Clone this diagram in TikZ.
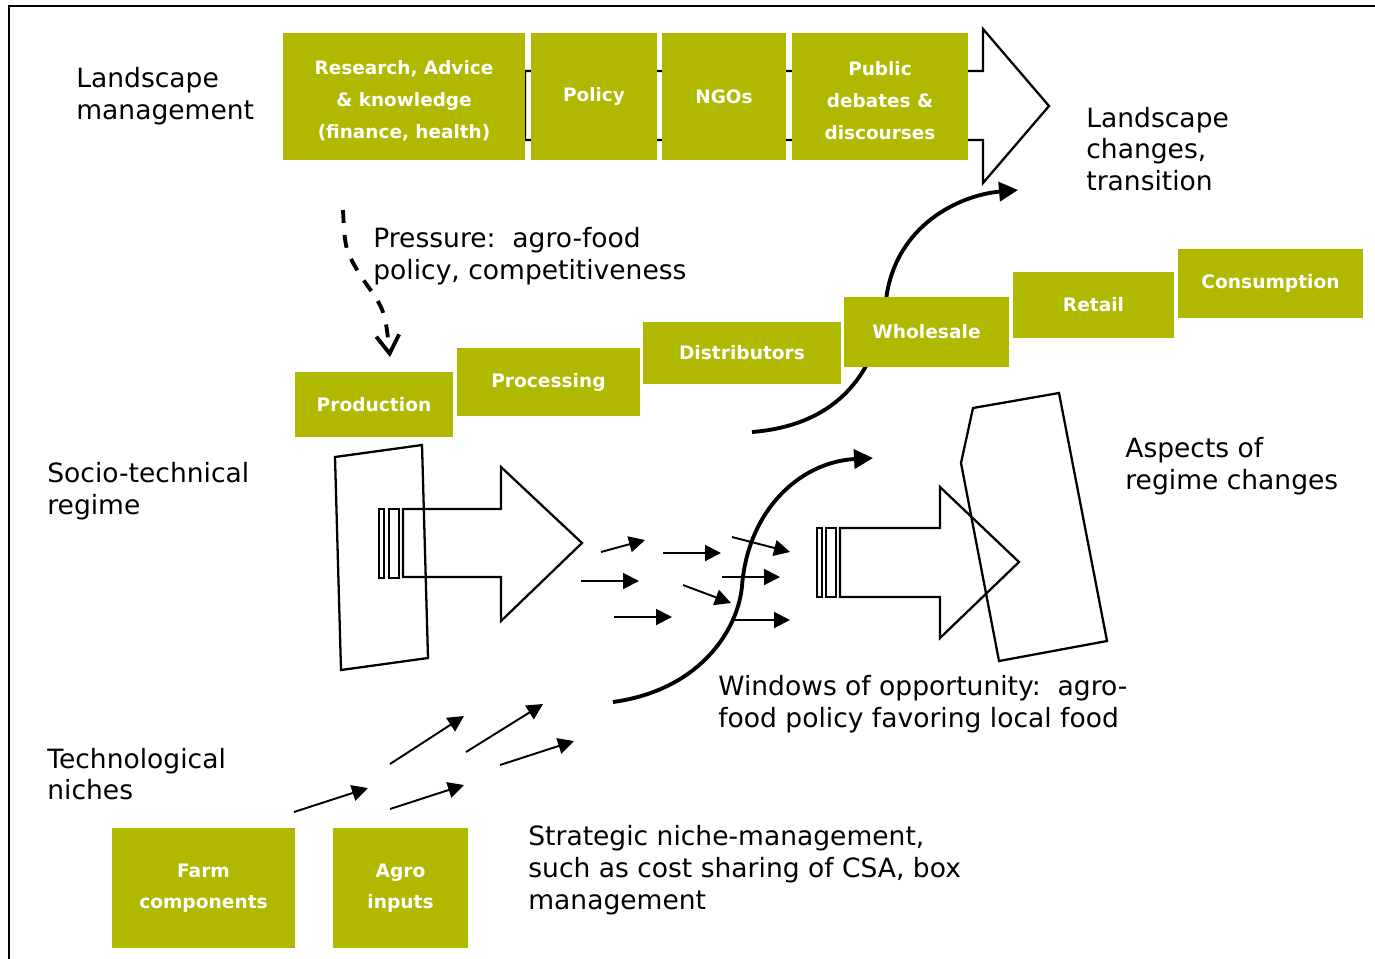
\documentclass[tikz,border=0pt]{standalone}
\usepackage{fontspec}
\setmainfont{DejaVu Sans}
\usetikzlibrary{arrows.meta}
\definecolor{leafgreen}{RGB}{176,184,0}
\newcommand{\topstrut}{\rule{0pt}{0.44cm}}

\begin{document}
\begin{tikzpicture}[x=0.02cm,y=-0.02cm,
  gbox/.style={fill=leafgreen,text=white,inner sep=0pt,align=center,
    font=\fontsize{10.6}{18}\selectfont\bfseries},
  topbox/.style={gbox,minimum height=2.54cm,
    font=\fontsize{10.5}{18.2}\selectfont\bfseries},
  plaintext/.style={anchor=west,align=left,inner sep=0pt,
    font=\fontsize{15.1}{18.1}\selectfont},
  outline/.style={line width=1.3pt,line join=miter},
  smallarrow/.style={line width=1.1pt,-{Triangle[length=0.32cm,width=0.32cm]}},
  bigcurve/.style={line width=2.2pt,-{Triangle[length=0.38cm,width=0.38cm]}}]
  \useasboundingbox (0,0) rectangle (1375,958);

  % frame
  \draw[line width=1.5pt] (9,965) -- (9,6) -- (1380,6);

  % Landscape level
  \draw[outline] (525,71) -- (983,71) -- (983,29) -- (1049,106)
    -- (983,183) -- (983,140) -- (525,140) -- cycle;
  \node[topbox,minimum width=4.84cm] (research) at (404,96.5)
    {\topstrut Research, Advice\\\& knowledge\\(finance, health)};
  \node[topbox,minimum width=2.52cm] (policy) at (594,96.5) {Policy};
  \node[topbox,minimum width=2.48cm] (ngos) at (724,96.5) {NGOs};
  \node[topbox,minimum width=3.52cm] (debates) at (880,96.5)
    {\topstrut Public\\debates \&\\discourses};

  \node[plaintext] (landmgmt) at (76,96) {Landscape\\management};
  \node[plaintext] (landchange) at (1086,149)
    {Landscape\\changes,\\transition};
  \node[plaintext] (pressure) at (373,256)
    {Pressure:\ \ agro-food\\policy, competitiveness};

  % pressure arrow
  \draw[line width=2.2pt,dash pattern=on 0.26cm off 0.24cm,
    -{Straight Barb[length=0.36cm,width=0.46cm]}]
    (343,210) .. controls (345,250) .. (362,278)
    .. controls (385,310) .. (390,357);

  % curve up to the landscape
  \draw[bigcurve] (752,432) .. controls (840,425) and (878,370) .. (886,300)
    .. controls (895,225) and (960,195) .. (1018,190);

  % Socio-technical regime chain
  \node[gbox,minimum width=3.16cm,minimum height=1.30cm] (production)
    at (374,404.5) {Production};
  \node[gbox,minimum width=3.66cm,minimum height=1.36cm] (processing)
    at (548.5,382) {Processing};
  \node[gbox,minimum width=3.96cm,minimum height=1.24cm] (distributors)
    at (742,353) {Distributors};
  \node[gbox,minimum width=3.30cm,minimum height=1.40cm] (wholesale)
    at (926.5,332) {Wholesale};
  \node[gbox,minimum width=3.22cm,minimum height=1.32cm] (retail)
    at (1093.5,305) {Retail};
  \node[gbox,minimum width=3.70cm,minimum height=1.38cm] (consumption)
    at (1270.5,283.5) {Consumption};

  \node[plaintext] (regime) at (47,491) {Socio-technical\\regime};
  \node[plaintext] (aspects) at (1125,466) {Aspects of\\regime changes};

  % regime block and arrow
  \draw[outline] (335,457) -- (422,445) -- (428,658) -- (341,670) -- cycle;
  \draw[outline] (403,509) -- (501,509) -- (501,467) -- (582,543)
    -- (501,621) -- (501,577) -- (403,577) -- cycle;
  \draw[outline] (379,509) rectangle (384,578);
  \draw[outline] (389,509) rectangle (399,578);

  % changed regime
  \draw[outline] (840,528) -- (940,528) -- (940,487) -- (1019,562)
    -- (940,638) -- (940,597) -- (840,597) -- cycle;
  \draw[outline] (817,528) rectangle (822,597);
  \draw[outline] (826,528) rectangle (836,597);
  \draw[outline] (973,408) -- (1059,393) -- (1107,641) -- (999,661)
    -- (961,463) -- cycle;

  % small arrows between regimes
  \foreach \ax/\ay/\bx/\by in {601/552/645/540, 663/553/721/553,
      581/581/639/581, 614/617/672/617, 683/585/731/603,
      732/537/790/552, 722/577/780/577, 733/620/790/620}
    \draw[smallarrow] (\ax,\ay) -- (\bx,\by);

  % window of opportunity
  \draw[bigcurve] (613,702) .. controls (700,690) and (738,630) .. (742,586)
    .. controls (748,510) and (800,462) .. (873,458);
  \node[plaintext] (windows) at (718,704)
    {Windows of opportunity:\ \ agro-\\food policy favoring local food};

  % Technological niches
  \node[plaintext] (niches) at (47,774) {Technological\\niches};
  \node[gbox,minimum width=3.66cm,minimum height=2.40cm] (farm)
    at (203.5,888) {Farm\\components};
  \node[gbox,minimum width=2.70cm,minimum height=2.40cm] (agro)
    at (400.5,888) {Agro\\inputs};
  \node[plaintext] (strategic) at (528,870)
    {Strategic niche-management,\\such as cost sharing of CSA, box\\management};

  \foreach \ax/\ay/\bx/\by in {294/812/368/788, 390/764/464/716,
      390/809/464/785, 466/752/543/704, 500/765/574/741}
    \draw[smallarrow] (\ax,\ay) -- (\bx,\by);
\end{tikzpicture}
\end{document}
